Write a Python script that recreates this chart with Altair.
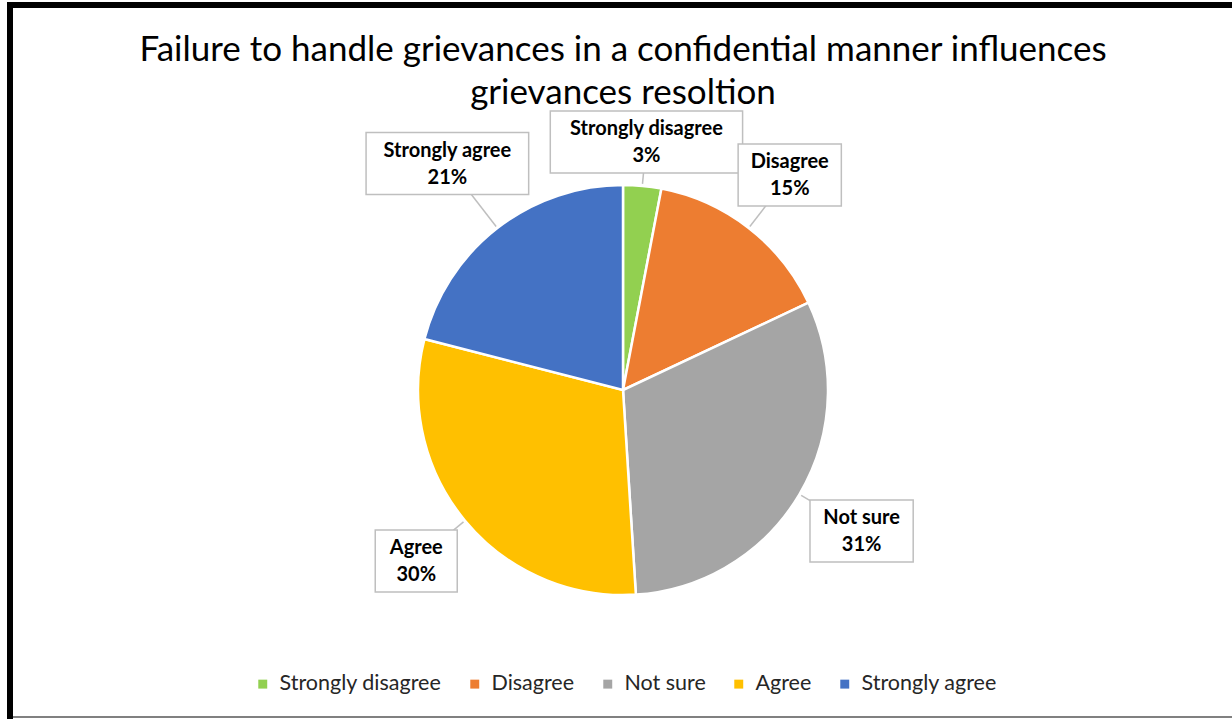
import altair as alt
import pandas as pd

categories = ["Strongly disagree", "Disagree", "Not sure", "Agree", "Strongly agree"]
percents = [3, 15, 31, 30, 21]
colors = ["#92D050", "#ED7D31", "#A5A5A5", "#FFC000", "#4472C4"]
title_lines = ["Failure to handle grievances in a confidential manner influences",
               "grievances resoltion"]

W, H = 1232, 719
CX, CY, R = 623, 390, 205
GAP = 12
FONT = "Lato"

df = pd.DataFrame({"category": categories, "value": percents,
                   "idx": list(range(len(categories)))})
one = pd.DataFrame({"t": ["|".join(title_lines)]})

base = alt.Chart(df)

color = alt.Color(
    "category:N",
    scale=alt.Scale(domain=categories, range=colors),
    legend=alt.Legend(orient="none", legendX=252, legendY=673, direction="horizontal",
                      title=None, symbolType="square", symbolSize=80,
                      symbolStrokeWidth=0, labelFontSize=21.5, labelFont=FONT,
                      labelColor="#262626", columnPadding=22, labelOffset=6,
                      labelLimit=400),
)

pie = base.mark_arc(outerRadius=R, stroke="white", strokeWidth=2.5).encode(
    theta=alt.Theta("value:Q", stack=True),
    color=color,
    order=alt.Order("idx:Q"),
    x=alt.value(CX),
    y=alt.value(CY),
)

RG = R + GAP
geo = base.transform_joinaggregate(total="sum(value)").transform_window(
    cum="sum(value)", sort=[alt.SortField("idx")], frame=[None, 0]
).transform_calculate(
    mid="(datum.cum - datum.value/2)/datum.total*2*PI",
    s="sin(datum.mid)",
    c="cos(datum.mid)",
    bw="max(82, 9.9*length(datum.category) + 24)",
    hw="datum.bw/2",
    hh="31",
    A="abs(datum.s)*datum.hw + abs(datum.c)*datum.hh",
    dc=f"datum.A + sqrt(datum.A*datum.A - datum.hw*datum.hw - datum.hh*datum.hh + {RG}*{RG})",
    d=(f"abs(datum.s)*datum.dc < datum.hw ? ({RG} + datum.hh)/abs(datum.c) : "
       f"(abs(datum.c)*datum.dc < datum.hh ? ({RG} + datum.hw)/abs(datum.s) : datum.dc)"),
    lx=f"{CX} + datum.d*datum.s",
    ly=f"{CY} - datum.d*datum.c",
    px=f"{CX} + {R + 2}*datum.s",
    py=f"{CY} - {R + 2}*datum.c",
    bx1="datum.lx - datum.hw",
    bx2="datum.lx + datum.hw",
    by1="datum.ly - datum.hh",
    by2="datum.ly + datum.hh",
    label="datum.category + '|' + datum.value + '%'",
)

pointer = geo.mark_rule(color="#BFBFBF", strokeWidth=1.5).encode(
    x=alt.X("lx:Q", scale=None, axis=None),
    y=alt.Y("ly:Q", scale=None, axis=None),
    x2="px:Q",
    y2="py:Q",
)

box = geo.mark_rect(fill="white", stroke="#BFBFBF", strokeWidth=1.5).encode(
    x=alt.X("bx1:Q", scale=None, axis=None),
    x2="bx2:Q",
    y=alt.Y("by1:Q", scale=None, axis=None),
    y2="by2:Q",
)

labels = geo.mark_text(font=FONT, fontSize=20, fontWeight="bold", lineBreak="|",
                       lineHeight=27, baseline="middle", align="center", dy=-13,
                       color="black").encode(
    x=alt.X("lx:Q", scale=None, axis=None),
    y=alt.Y("ly:Q", scale=None, axis=None),
    text="label:N",
)

title = alt.Chart(one).mark_text(font=FONT, fontSize=35, lineBreak="|", lineHeight=43,
                                  baseline="alphabetic", align="center",
                                  color="black").encode(
    text="t:N", x=alt.value(623), y=alt.value(61)
)

top_border = alt.Chart(one).mark_rule(color="black", strokeWidth=6).encode(
    x=alt.value(7), x2=alt.value(W), y=alt.value(5)
)
left_border = alt.Chart(one).mark_rule(color="black", strokeWidth=6).encode(
    x=alt.value(10), y=alt.value(2), y2=alt.value(H)
)
bottom_line = alt.Chart(one).mark_rule(color="#808080", strokeWidth=2).encode(
    x=alt.value(13), x2=alt.value(W), y=alt.value(717)
)

chart = alt.layer(
    top_border, left_border, bottom_line, pie, pointer, box, labels, title
).properties(
    width=W, height=H, autosize=alt.AutoSizeParams(type="none"), padding=0,
    background="white",
).configure_view(stroke=None)

chart.save("out.html", embed_options={"renderer": "svg", "actions": False})
